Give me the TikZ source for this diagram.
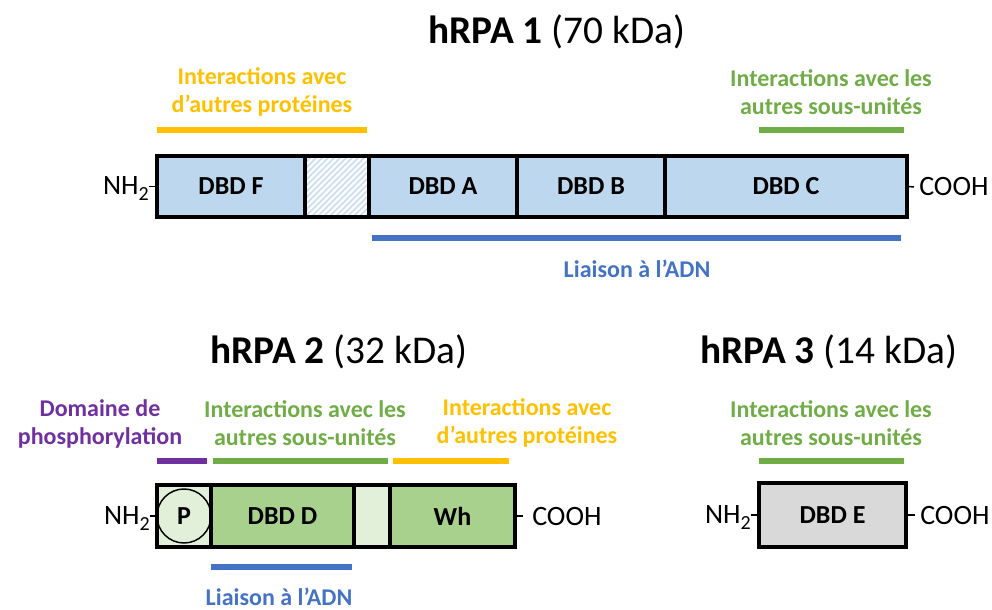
\documentclass[tikz,border=0pt]{standalone}
\usepackage{fontspec}
\setmainfont{Carlito}
\definecolor{dblue}{HTML}{BDD7EE}
\definecolor{hblue}{HTML}{C9DDF0}
\definecolor{dgreen}{HTML}{A9D18E}
\definecolor{lgreen}{HTML}{E2F0D9}
\definecolor{dgray}{HTML}{D9D9D9}
\definecolor{cOrange}{HTML}{FFC000}
\definecolor{cGreen}{HTML}{70AD47}
\definecolor{cBlue}{HTML}{4472C4}
\definecolor{cPurple}{HTML}{7030A0}
\newcommand{\subtwo}{\raisebox{-0.45ex}{\fontsize{15}{18}\selectfont 2}}
\begin{document}
\begin{tikzpicture}[x=0.75pt,y=-0.75pt,
  dom/.style={draw=black, line width=2.3pt, inner sep=0pt, font=\fontsize{19.5}{23}\bfseries\selectfont},
  term/.style={inner sep=0pt, font=\fontsize{21}{24}\selectfont},
  tick/.style={line width=1.1pt},
  bar/.style={line width=4.5pt},
  lab/.style={align=center, inner sep=0pt, font=\fontsize{18}{21}\bfseries\selectfont},
  ttl/.style={inner sep=0pt, font=\fontsize{29.5}{34}\selectfont}]
\useasboundingbox (0,0) rectangle (992,610);

% ---------------- hRPA 1 ----------------
\node[ttl] (t1) at (557,32) {\textbf{hRPA 1} (70 kDa)};
\begin{scope}
  \clip (305,156) rectangle (369,217);
  \foreach \i in {-72,-66,...,72} \draw[hblue, line width=1.1pt] (305+\i,217) -- ++(64,-64);
\end{scope}
\node[dom, fill=dblue, minimum width=111pt, minimum height=45.75pt] (F) at (231,186.5) {DBD F};
\node[dom, minimum width=48pt, minimum height=45.75pt] (H) at (337,186.5) {};
\node[dom, fill=dblue, minimum width=111pt, minimum height=45.75pt] (A) at (443,186.5) {DBD A};
\node[dom, fill=dblue, minimum width=111pt, minimum height=45.75pt] (B) at (591,186.5) {DBD B};
\node[dom, fill=dblue, minimum width=181.5pt, minimum height=45.75pt] (C) at (786,186.5) {DBD C};
\node[term, anchor=east] (n1) at (149,189) {NH\subtwo};
\node[term, anchor=west] (c1) at (919,187) {COOH};
\coordinate (k1) at (914,187);
\draw[tick] (F.west -| n1.east) -- (F.west);
\draw[tick] (C.east) -- (k1);
\node[lab, text=cOrange] (l1a) at (262,92) {Interactions avec\\d’autres protéines};
\node[lab, text=cGreen] (l1b) at (831,92) {Interactions avec les\\autres sous-unités};
\draw[bar, cOrange] (157,130) -- (367,130);
\draw[bar, cGreen] (759,130) -- (904,130);
\draw[bar, cBlue] (372,238) -- (901,238);
\node[lab, text=cBlue] (l1c) at (637,269) {Liaison à l’ADN};

% ---------------- hRPA 2 ----------------
\node[ttl] (t2) at (339,352) {\textbf{hRPA 2} (32 kDa)};
\node[dom, fill=lgreen, minimum width=40.5pt, minimum height=46.5pt] (Pr) at (184,516) {};
\node[circle, draw=black, line width=1.1pt, minimum size=40.5pt, inner sep=0pt, font=\fontsize{19.5}{23}\bfseries\selectfont] (P) at (184,516) {P};
\node[dom, fill=dgreen, minimum width=107.25pt, minimum height=46.5pt] (D) at (282.5,516) {DBD D};
\node[dom, fill=lgreen, minimum width=27pt, minimum height=46.5pt] (L) at (372,516) {};
\node[dom, fill=dgreen, minimum width=93.75pt, minimum height=46.5pt] (W) at (452.5,516) {Wh};
\node[term, anchor=east] (n2) at (150,519) {NH\subtwo};
\node[term, anchor=west] (c2) at (532,517) {COOH};
\coordinate (k2) at (523,516);
\draw[tick] (Pr.west -| n2.east) -- (Pr.west);
\draw[tick] (W.east) -- (k2);
\node[lab, text=cPurple] (l2a) at (100,424) {Domaine de\\phosphorylation};
\node[lab, text=cGreen] (l2b) at (305,423) {Interactions avec les\\autres sous-unités};
\node[lab, text=cOrange] (l2c) at (527,423) {Interactions avec\\d’autres protéines};
\draw[bar, cPurple] (157,461) -- (207,461);
\draw[bar, cGreen] (213,461) -- (388,461);
\draw[bar, cOrange] (393,461) -- (509,461);
\draw[bar, cBlue] (211,567) -- (352,567);
\node[lab, text=cBlue] (l2d) at (279,597) {Liaison à l’ADN};

% ---------------- hRPA 3 ----------------
\node[ttl] (t3) at (829,352) {\textbf{hRPA 3} (14 kDa)};
\node[dom, fill=dgray, minimum width=110.25pt, minimum height=48pt] (E) at (832.5,515) {DBD E};
\node[term, anchor=east] (n3) at (751,518) {NH\subtwo};
\node[term, anchor=west] (c3) at (920,516) {COOH};
\coordinate (k3) at (915,515);
\draw[tick] (E.west -| n3.east) -- (E.west);
\draw[tick] (E.east) -- (k3);
\node[lab, text=cGreen] (l3a) at (831,423) {Interactions avec les\\autres sous-unités};
\draw[bar, cGreen] (759,461) -- (904,461);
\end{tikzpicture}
\end{document}
